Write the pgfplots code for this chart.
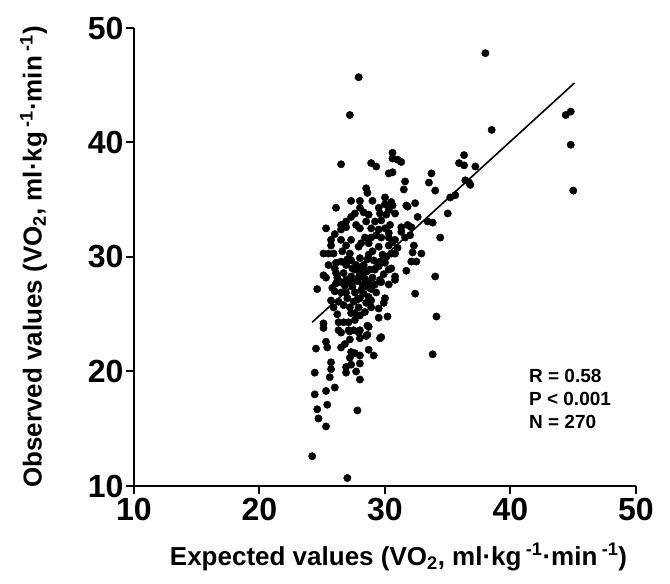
\documentclass[border=0pt]{standalone}
\usepackage{pgfplots}
\pgfplotsset{compat=1.18}
\usepackage{fontspec}
\setmainfont{Liberation Sans}
\begin{document}
\begin{tikzpicture}[x=1pt,y=1pt]
\useasboundingbox (0,0) rectangle (670,584);
\begin{axis}[
  at={(134pt,98pt)}, anchor=south west,
  scale only axis, width=502pt, height=458pt,
  xmin=10, xmax=50, ymin=10, ymax=50,
  xtick={10,20,30,40,50}, ytick={10,20,30,40,50},
  axis lines=left,
  axis line style={-, line width=2pt},
  every tick/.style={black, line width=2pt},
  major tick length=8pt,
  tick align=outside,
  minor tick num=0,
  clip=false,
  /pgf/number format/assume math mode=true,
  ticklabel style={font=\bfseries\fontsize{32}{34}\selectfont},
  xticklabel style={yshift=-1pt},
  yticklabel style={xshift=1pt},
  label style={font=\bfseries\fontsize{26}{28}\selectfont},
  xlabel={Expected values (VO\textsubscript{2}, ml·kg\,\textsuperscript{-1}·min\,\textsuperscript{-1})},
  ylabel={Observed values (VO\textsubscript{2}, ml·kg\,\textsuperscript{-1}·min\,\textsuperscript{-1})},
  xlabel style={at={(axis description cs:0.527,-0.155)}, anchor=center},
  ylabel style={at={(axis description cs:-0.2,0.5)}, anchor=center},
]
\addplot[only marks, mark=*, mark size=3.7pt, black] table {
x y
38.0 47.8
27.9 45.7
27.2 42.4
44.4 42.4
44.8 42.7
44.8 39.8
45.0 35.8
38.5 41.1
36.3 38.9
35.9 38.2
36.3 38.0
37.2 37.9
33.7 37.3
33.5 36.5
34.0 35.8
36.4 36.7
36.8 36.3
36.7 36.5
35.6 35.4
35.2 35.2
35.0 33.8
34.4 31.7
34.0 28.3
32.4 26.8
34.1 24.8
33.8 21.5
30.2 24.8
32.2 30.4
32.9 30.3
32.1 29.6
32.5 29.6
31.7 28.8
30.8 28.0
30.5 30.3
31.0 30.8
30.5 29.0
31.6 36.6
31.5 35.9
30.5 34.8
30.6 34.5
30.8 33.8
31.7 34.5
31.8 34.4
32.4 34.7
30.3 34.1
32.6 33.5
33.4 33.1
33.8 33.0
31.3 32.6
31.8 32.8
32.1 32.6
32.0 31.9
31.6 31.7
31.3 32.2
30.8 31.5
30.3 32.1
32.3 31.0
26.5 38.1
28.9 38.2
29.3 37.9
30.6 39.1
30.6 38.6
31.0 38.5
31.3 38.3
30.6 37.4
30.3 37.3
28.5 36.0
28.6 35.6
30.0 35.2
27.3 34.9
28.0 34.9
26.1 34.3
28.0 34.3
28.3 33.9
28.7 33.7
29.5 34.3
30.0 34.6
30.3 34.4
29.6 33.8
30.1 33.7
27.3 33.5
26.9 33.1
26.5 32.8
26.9 32.6
26.5 32.4
27.7 32.8
28.0 32.5
28.5 33.1
29.2 33.1
29.7 33.2
28.9 32.5
29.5 32.4
30.0 32.5
30.4 32.8
25.7 31.5
25.7 31.0
26.5 31.5
27.3 31.5
28.4 31.7
28.9 31.7
29.7 31.7
30.3 31.7
30.6 31.3
24.6 27.2
25.1 28.4
25.3 28.2
25.1 30.3
25.5 30.3
25.9 30.3
26.1 28.6
26.1 27.7
26.5 27.8
26.5 26.9
26.9 26.9
25.7 26.2
26.3 26.1
25.9 25.6
25.1 24.2
25.1 23.8
26.3 24.3
26.7 24.3
27.1 24.3
26.3 23.6
27.1 23.6
27.5 23.6
28.0 23.6
27.2 22.8
28.0 22.9
28.7 23.9
28.6 23.2
29.5 24.7
29.7 23.0
24.5 22.0
26.9 31.0
27.9 30.9
28.7 31.2
29.5 30.9
30.3 31.0
30.8 30.3
30.3 28.9
30.8 28.3
30.3 27.6
29.7 27.8
29.3 26.9
30.0 26.4
29.9 26.0
29.5 25.5
28.9 25.6
28.4 25.2
28.0 24.9
27.6 25.1
29.6 28.0
29.6 29.6
29.2 28.9
28.5 28.7
28.0 28.6
28.7 27.7
28.1 27.1
28.7 26.5
28.0 26.4
27.5 26.1
27.2 25.6
27.6 26.9
27.1 27.7
26.7 28.6
26.9 29.3
27.3 29.7
28.0 29.9
28.7 30.2
29.1 29.7
28.3 29.3
27.6 28.9
26.5 29.6
26.1 29.5
27.8 27.9
27.4 27.4
28.2 27.6
27.9 28.2
27.3 28.3
28.4 28.1
27.0 26.4
28.3 26.8
27.7 29.3
28.9 27.2
29.0 28.2
26.8 27.5
27.5 27.9
28.6 29.8
27.2 30.3
26.6 30.5
29.0 30.5
29.8 30.2
26.9 28.0
27.4 29.0
28.1 29.1
28.8 28.9
27.0 29.8
26.2 28.2
26.0 27.0
27.8 26.3
28.5 26.0
28.9 26.2
26.7 25.8
27.3 25.1
26.2 25.0
27.9 25.6
29.2 27.6
28.6 27.4
27.6 24.5
26.0 29.0
25.5 29.3
25.8 27.3
29.5 29.2
30.0 29.5
29.9 28.5
29.3 31.9
28.1 31.2
26.0 32.0
25.3 32.5
27.6 33.8
29.0 34.9
30.1 30.0
24.2 12.6
27.0 10.7
27.8 16.6
25.3 15.2
24.7 15.9
24.6 16.7
25.4 17.1
24.4 18.0
25.3 18.3
26.0 18.6
24.4 19.9
25.6 19.5
25.7 20.2
25.7 20.8
26.9 19.9
26.9 20.4
27.3 20.6
27.7 20.0
28.0 19.3
27.2 21.2
28.0 20.7
28.0 21.4
27.3 21.7
27.6 21.6
26.5 22.1
26.8 22.4
25.4 22.1
25.3 22.6
28.7 21.9
29.1 21.4
29.6 22.9
27.9 23.4
28.5 23.1
28.6 24.0
27.2 23.5
26.5 23.4
};
\addplot[black, line width=1.6pt, no marks] coordinates {(24.2,24.3) (45.1,45.2)};
\node[anchor=west, font=\bfseries\fontsize{19}{21}\selectfont] at (axis cs:41.2,19.6) {R = 0.58};
\node[anchor=west, font=\bfseries\fontsize{19}{21}\selectfont] at (axis cs:41.2,17.6) {P < 0.001};
\node[anchor=west, font=\bfseries\fontsize{19}{21}\selectfont] at (axis cs:41.2,15.6) {N = 270};
\end{axis}
\end{tikzpicture}
\end{document}
